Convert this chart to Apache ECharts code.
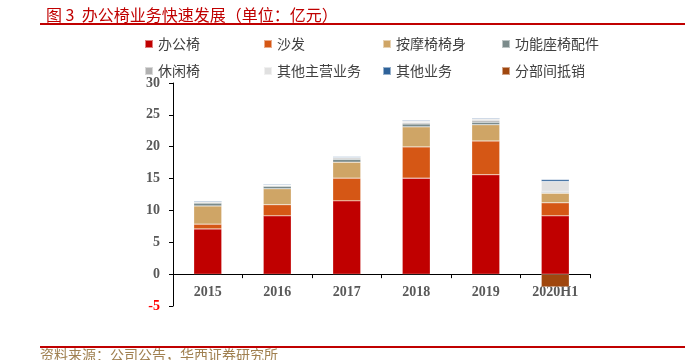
<!DOCTYPE html>
<html><head><meta charset="utf-8">
<script src="https://cdn.jsdelivr.net/npm/echarts@6/dist/echarts.min.js"></script>
<style>html,body{margin:0;padding:0;background:#fff}#c{width:685px;height:360px}</style>
</head><body><div id="c"></div>
<script>
const categories = ['2015','2016','2017','2018','2019','2020H1'];
const seriesNames = ['办公椅','沙发','按摩椅椅身','功能座椅配件','休闲椅','其他主营业务','其他业务','分部间抵销'];
const office     = [7.1, 9.15, 11.5, 15.07, 15.6, 9.15];
const sofa       = [0.75, 1.75, 3.57, 4.9, 5.3, 2.05];
const massage    = [2.85, 2.5, 2.5, 3.15, 2.55, 1.5];
const functional = [0.45, 0.4, 0.45, 0.45, 0.4, 0.15];
const leisure    = [0.15, 0.1, 0.2, 0.2, 0.3, 0.15];
const otherMain  = [0.05, 0.05, 0.1, 0.25, 0.2, 1.55];
const otherBiz   = [0.15, 0.15, 0.15, 0.15, 0.15, 0.3];
const elimination= [0, 0, 0, 0, 0, -2.0];
const yTicks = [-5, 0, 5, 10, 15, 20, 25, 30];

const values = [office, sofa, massage, functional, leisure, otherMain, otherBiz, elimination];
const colors = ['#C00000','#D55715','#CFA566','#7B8B8B','#B0B0B0','#E0E0E0','#2E6299','#A0470E'];
const legendPos = [[139,32],[258,32],[377,32],[496,32],[139,59],[258,59],[377,59],[496,59]];

const chart = echarts.init(document.getElementById('c'));
chart.setOption({
  animation:false,
  backgroundColor:'#fff',
  title:{text:'图 3  办公椅业务快速发展（单位：亿元）', left:41, top:2,
    textStyle:{color:'#C00000', fontSize:16, fontWeight:'normal', fontFamily:'Noto Sans CJK SC'}},
  legend: seriesNames.map((n,i)=>({
    data:[n], left:legendPos[i][0], top:legendPos[i][1], itemWidth:8, itemHeight:8, itemGap:5,
    icon:'rect', textStyle:{color:'#404040', fontSize:14, fontFamily:'Noto Sans CJK SC'}
  })),
  graphic:[
    {type:'rect', shape:{x:40,y:23,width:645,height:2}, style:{fill:'#C00000'}},
    {type:'rect', shape:{x:40,y:346,width:645,height:2}, style:{fill:'#C00000'}},
    {type:'text', left:40, top:348, style:{text:'资料来源：公司公告，华西证券研究所', fill:'#A08050', fontSize:14, fontFamily:'Noto Sans CJK SC'}}
  ],
  grid:{left:173, right:95, top:83, height:223, containLabel:false},
  xAxis:{type:'category', data:categories,
    axisLine:{onZero:true, lineStyle:{color:'#000', width:1}},
    axisTick:{show:true, alignWithLabel:false, length:4, lineStyle:{color:'#000'}},
    axisLabel:{color:'#595959', fontSize:14, fontWeight:'bold', fontFamily:'Liberation Serif', margin:-21}
  },
  yAxis:{type:'value', min:yTicks[0], max:yTicks[yTicks.length-1], interval:5,
    axisLine:{show:true, lineStyle:{color:'#000'}},
    axisTick:{show:true, length:4, lineStyle:{color:'#000'}},
    splitLine:{show:false},
    axisLabel:{fontSize:14, fontWeight:'bold', fontFamily:'Liberation Serif', margin:13,
      color:(v)=> v<0 ? '#FF0000' : '#595959'}
  },
  series: seriesNames.map((n,i)=>({
    name:n, type:'bar', stack:'total', barWidth:28,
    itemStyle:{color:colors[i], borderColor:'rgba(255,255,255,0.5)', borderWidth:0.5},
    data: values[i]
  }))
});
</script></body></html>
